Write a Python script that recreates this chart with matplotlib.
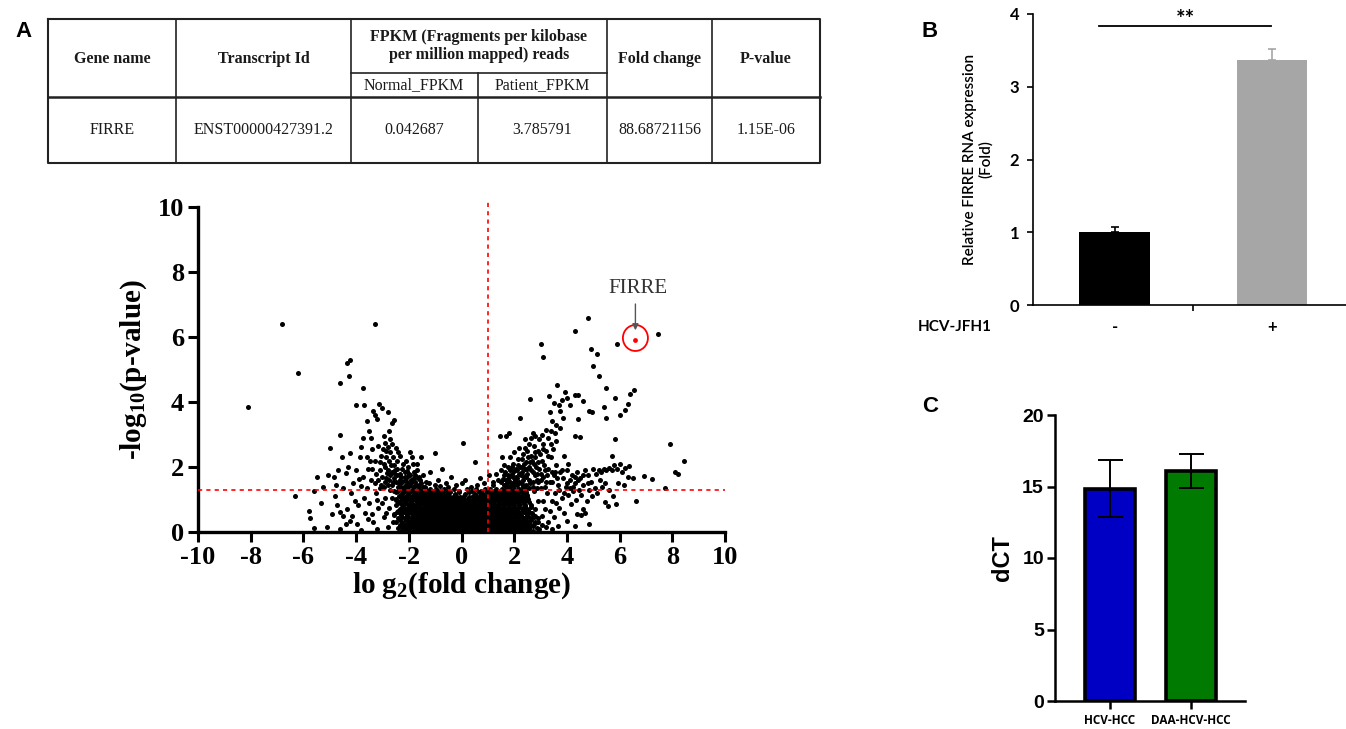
import matplotlib
matplotlib.use("Agg")
import numpy as np
import matplotlib.pyplot as plt
from matplotlib.patches import Ellipse

W, H = 1346, 729
plt.rcParams["axes.unicode_minus"] = False

# ---------------- data ----------------
table_header = ["Gene name", "Transcript Id", "FPKM (Fragments per kilobase\nper million mapped) reads",
                "Fold change", "P-value"]
table_sub = ["Normal_FPKM", "Patient_FPKM"]
table_row = ["FIRRE", "ENST00000427391.2", "0.042687", "3.785791", "88.68721156", "1.15E-06"]

# volcano: sparse points on the left side
left_pts = [(-8.1,3.85),(-6.8,6.4),(-6.2,4.9),(-3.3,6.4),(-6.3,1.12),(-5.8,0.65),(-5.75,0.42),(-5.6,0.12),
    (-5.35,0.88),(-5.1,0.15),(-5.0,2.6),(-5.25,1.4),(-5.05,1.75),(-4.85,1.7),(-4.75,1.45),(-4.62,3.0),
    (-4.52,2.3),(-4.4,1.82),(-4.35,5.2),(-4.22,5.3),(-4.28,4.8),(-4.62,4.6),(-4.0,3.92),(-3.72,4.42),
    (-4.22,2.42),(-4.72,0.82),(-4.62,0.62),(-4.5,0.48),(-4.35,0.72),(-4.25,0.35),(-4.05,0.95),(-3.92,0.82),
    (-4.02,1.9),(-3.9,1.62),(-3.82,1.42),(-3.72,2.9),(-3.82,2.62),(-3.6,3.42),(-3.5,3.12),(-3.35,3.72),
    (-3.28,3.6),(-3.2,3.48),(-3.12,3.95),(-3.02,3.82),(-2.8,3.7),(-2.55,3.45),(-2.65,3.35),(-3.7,3.9),
    (-3.6,2.3),(-3.45,2.9),(-3.4,2.55),(-3.55,1.95),(-3.3,2.2),(-3.25,1.8),(-3.15,2.65),(-3.05,2.35),
    (-2.95,2.95),(-2.9,2.75),(-2.85,2.5),(-2.75,3.1),(-2.7,2.85),(-2.6,2.3),(-2.55,2.05),(-2.75,2.2),
    (-2.95,2.1),(-3.1,1.9),(-3.45,1.6),(-3.6,1.35),(-3.75,1.7),(-4.1,1.5),(-4.2,1.2),(-4.5,1.35),
    (-4.8,1.1),(-5.5,1.7),(-5.6,1.25),(-4.9,0.55),(-4.15,0.5),(-3.95,0.25),(-3.65,0.6),(-3.7,1.05),
    (-3.5,0.9),(-3.4,0.55),(-3.35,0.3),(-3.25,1.2),(-3.15,0.75),(-3.05,1.45),(-2.95,0.45),(-2.9,1.05),
    (-2.85,1.65),(-2.75,0.75),(-2.7,1.3),(-2.65,1.85),(-2.6,0.3),(-2.6,1.55),(-2.5,1.0),(-2.5,2.6),
    (-2.45,1.75),(-2.4,0.65),(-2.4,1.4),(-2.35,2.35),(-2.3,1.15),(-2.25,1.95),(-2.2,0.85),(-2.15,1.6),
    (-2.1,2.2),(-2.05,1.35),(-2.0,1.8),(-1.95,2.45),(-1.9,1.5),(-1.85,2.1),(-1.8,1.65),(-1.7,1.9),
    (-1.6,1.45),(-1.55,2.3),(-1.45,1.75),(-1.35,1.55),(-1.2,1.85),(-1.0,2.42),(-0.9,1.6),(-0.75,1.95),
    (-0.6,1.5),(-0.4,1.7),(-0.2,1.45),(-3.85,2.3),(-4.3,2.0),(-4.7,1.9),(-3.2,0.1),(-2.8,0.15),
    (-4.6,0.1),(-3.8,0.05),(-3.0,1.7),(-2.9,2.0),(-2.8,1.45),(-2.7,2.45),(-2.55,1.25),(-2.45,2.2),
    (-2.35,1.6),(-2.25,1.35),(-2.15,1.85),(-2.05,1.55),(-1.95,1.75),(-1.85,1.4),(-1.75,1.55),(-3.3,1.5),
    (-3.2,1.0),(-3.0,0.9),(-2.85,0.6),(-2.65,1.05),(-2.55,0.55),(-3.55,0.4),(-4.4,0.25),
    (-2.98,2.55),(-2.88,2.3),(-2.78,2.62),(-2.68,2.05),(-2.62,2.7),(-2.52,1.9),(-2.42,2.45),(-2.32,1.8),
    (-2.22,2.1),(-2.12,1.45),(-2.02,2.0),(-1.92,1.6),(-1.82,1.85),(-1.72,1.45),(-1.62,1.7),(-1.52,1.5),
    (-3.08,2.15),(-3.18,1.6),(-3.38,1.95),(-3.48,2.2),(-2.78,1.9),(-2.58,1.65),(-2.38,1.5),(-2.18,1.4),
    (-2.9,1.55),(-3.1,1.35),(-2.72,1.75),(-2.48,1.55),(-2.28,1.7),(-2.08,1.7),(-1.88,2.3),(-1.68,2.1),
    (-2.84,1.82),(-2.64,1.45),(-2.44,1.95),(-2.34,1.42),(-2.14,1.7),(-1.98,1.42),(-1.78,1.75),(-1.58,1.6),
    (-2.96,1.4),(-2.76,1.6),(-2.56,1.82),(-2.26,1.55),(-2.06,1.88),(-1.86,1.58),(-1.66,1.42),(-1.46,1.4)]

# volcano: points around the centre, above the dense core
mid_pts = [(0.05,2.75),(0.15,1.6),(0.35,1.4),(0.5,2.15),(0.7,1.65),(0.85,1.5),(1.05,1.75),(-1.0,1.45),
    (-0.5,1.4),(0.0,1.5),(0.6,1.45),(-1.4,1.4),(-1.65,1.65),(-1.25,1.5),(-0.8,1.42),(1.2,1.45)]

# volcano: right side
right_pts = [(4.8,6.6),(4.3,6.2),(3.0,5.8),(3.1,5.4),(4.9,5.62),(5.15,5.48),(5.0,5.12),(5.22,4.8),
    (5.9,5.78),(7.45,6.1),(5.5,4.42),(5.82,4.12),(6.38,4.25),(6.55,4.38),(6.3,3.95),(6.0,3.6),(6.22,3.75),
    (5.5,3.5),(5.42,3.85),(4.82,3.72),(4.95,3.7),(4.62,4.02),(4.42,4.22),(4.32,4.22),(4.12,3.92),
    (4.02,4.12),(3.92,4.3),(3.62,4.52),(2.6,4.1),(3.32,4.18),(3.5,3.98),(3.35,3.7),(3.45,3.42),(3.72,3.72),
    (2.22,3.52),(4.42,3.48),(4.3,2.95),(4.5,2.92),(5.82,2.85),(5.72,2.35),(7.92,2.7),(8.45,2.18),
    (8.1,1.85),(8.22,1.78),(7.72,1.35),(7.22,1.62),(6.92,1.72),(6.62,0.95),(6.5,1.65),(5.55,0.8),
    (5.45,0.92),(4.62,0.7),(4.52,0.52),(4.82,0.25),(4.4,0.55),(4.7,0.6),(4.3,0.2),(3.8,4.05),(3.7,3.9),
    (3.85,3.5),(3.75,3.2),(3.6,3.3),(3.55,3.05),(3.4,3.1),(3.3,2.9),(3.2,3.15),(3.1,2.7),(3.05,3.0),
    (2.95,2.85),(2.9,2.5),(2.8,2.95),(2.75,2.65),(2.7,3.05),(2.65,2.35),(2.55,2.7),(2.5,2.5),(2.45,2.15),
    (2.4,2.85),(2.35,2.4),(2.3,2.0),(2.2,2.6),(2.15,2.25),(2.1,1.9),(2.0,2.45),(1.95,2.1),(1.9,1.8),
    (1.85,2.3),(1.75,2.0),(1.7,2.95),(1.6,1.75),(1.55,2.3),(1.5,1.9),(1.45,2.95),(1.8,3.05),(1.4,1.6),
    (1.3,1.8),(1.2,1.55),(3.9,2.35),(4.05,2.1),(4.0,1.9),(4.1,1.6),(4.2,1.75),(4.3,1.5),(4.4,1.85),
    (4.5,1.65),(4.6,1.45),(4.7,1.9),(4.8,1.75),(4.9,1.55),(5.0,1.95),(5.1,1.8),(5.2,1.9),(5.3,1.85),
    (5.4,1.95),(5.5,1.9),(5.6,1.98),(5.7,1.92),(5.8,2.05),(5.9,1.95),(6.0,2.1),(6.1,1.85),(6.2,1.98),
    (6.35,2.02),(5.25,1.6),(5.35,1.4),(5.15,1.2),(5.05,1.35),(5.45,1.5),(5.6,1.3),(5.75,1.1),(5.85,0.85),
    (5.95,1.5),(6.15,1.45),(6.3,1.7),(4.95,1.1),(4.85,1.3),(4.75,0.95),(4.55,1.15),(4.45,1.3),(4.35,1.0),
    (4.25,1.25),(4.15,0.85),(4.05,1.15),(3.95,1.4),(3.85,1.65),(3.8,1.05),(3.75,1.85),(3.7,0.75),
    (3.65,1.45),(3.6,2.05),(3.55,1.2),(3.5,1.75),(3.45,0.95),(3.4,2.3),(3.35,1.55),(3.3,1.95),(3.25,1.2),
    (3.2,2.5),(3.15,0.7),(3.1,1.7),(3.05,2.2),(3.0,1.35),(2.95,1.95),(2.9,0.95),(2.85,1.6),(2.8,2.3),
    (2.75,1.25),(2.7,1.85),(2.65,0.6),(2.6,1.5),(2.55,2.0),(2.5,1.15),(2.45,1.7),(2.4,0.8),(2.35,1.4),
    (2.3,1.85),(2.25,1.05),(2.2,1.55),(2.15,1.3),(2.1,1.65),(2.05,1.1),(2.0,1.45),(1.95,1.7),(1.9,1.25),
    (1.85,1.55),(1.8,1.05),(1.75,1.4),(1.7,1.6),(1.65,1.2),(1.6,1.45),(1.55,1.3),(1.5,1.55),(3.3,0.3),
    (3.5,0.45),(3.9,0.6),(4.0,0.35),(3.2,0.15),(3.45,0.1),(2.9,0.3),(3.65,0.2),(3.05,0.5),(3.35,0.65),
    (3.6,0.9),(3.1,0.95),(2.8,0.5),(2.95,0.1),(2.3,2.25),(2.4,1.95),(2.5,1.8),(2.6,2.15),(2.7,1.55),
    (2.8,1.75),(2.9,2.15),(3.0,1.6),(2.05,1.95),(2.15,2.05),(2.25,1.75),(2.35,1.6),(2.45,1.45),(2.55,1.35),
    (2.65,1.9),(2.75,2.1),(2.85,1.35),(1.65,1.85),(1.75,1.75),(1.85,1.9),(1.95,1.5),(2.05,1.7),(3.15,1.4),
    (3.25,1.75),(3.45,1.55),(3.55,1.85),(3.7,1.3),(3.9,1.2),(4.1,1.35),(4.3,1.7),(4.6,1.75),(4.8,1.5),
    (1.58,1.62),(1.68,1.38),(1.78,1.62),(1.88,1.42),(1.98,1.88),(2.08,1.52),(2.18,1.8),(2.28,1.48),
    (2.38,2.1),(2.48,1.95),(2.58,1.6),(2.68,2.2),(2.78,2.45),(2.88,1.8),(2.98,2.4),(3.08,2.55),(3.18,1.9),
    (3.28,2.35),(3.38,2.7),(3.48,2.55),(3.58,2.8),(2.62,2.9),(2.52,2.3),(2.42,2.6),(2.32,1.72),(2.22,2.0),
    (2.12,1.45),(2.02,1.6),(1.92,2.0),(1.82,1.7),(1.72,1.5),(1.62,2.05),(2.72,1.4),(2.82,2.0),(2.92,1.55),
    (3.02,1.8),(3.12,2.05),(3.22,1.55),(3.42,1.85),(3.62,1.65),(3.82,1.9),(4.02,1.5),(4.22,1.4),(4.42,1.6)]

# volcano: dense core below the threshold, one row of x values per y level
core_rows = [
    (0.03, [-2.3,-2.05,-1.85,-1.62,-1.44,-1.25,-1.08,-0.9,-0.73,-0.55,-0.38,-0.2,-0.04,0.13,0.3,0.47,0.64,0.82,0.99,1.16,1.33,1.5,1.68,1.85,2.03,2.22,2.45,2.7]),
    (0.08, [-2.18,-1.98,-1.72,-1.52,-1.34,-1.16,-0.98,-0.8,-0.63,-0.46,-0.28,-0.11,0.06,0.22,0.39,0.56,0.73,0.9,1.08,1.25,1.42,1.59,1.77,1.95,2.13,2.33,2.56]),
    (0.12, [-2.42,-2.2,-1.95,-1.76,-1.55,-1.36,-1.18,-1.0,-0.82,-0.64,-0.47,-0.3,-0.12,0.05,0.22,0.39,0.56,0.73,0.9,1.07,1.24,1.42,1.6,1.77,1.95,2.13,2.34,2.58,2.85]),
    (0.17, [-2.28,-2.06,-1.84,-1.65,-1.46,-1.27,-1.09,-0.91,-0.73,-0.56,-0.38,-0.21,-0.03,0.14,0.31,0.48,0.65,0.82,0.99,1.16,1.33,1.51,1.69,1.86,2.04,2.24,2.46,2.72]),
    (0.22, [-2.35,-2.1,-1.9,-1.7,-1.5,-1.3,-1.12,-0.95,-0.77,-0.6,-0.42,-0.25,-0.08,0.09,0.26,0.43,0.6,0.78,0.95,1.12,1.29,1.46,1.64,1.82,2.0,2.18,2.4,2.65,3.05]),
    (0.27, [-2.22,-2.0,-1.8,-1.6,-1.4,-1.21,-1.03,-0.86,-0.68,-0.51,-0.33,-0.16,0.0,0.18,0.35,0.52,0.69,0.86,1.03,1.2,1.38,1.55,1.73,1.91,2.09,2.29,2.52,2.8]),
    (0.32, [-2.5,-2.25,-2.0,-1.8,-1.6,-1.41,-1.22,-1.04,-0.86,-0.69,-0.51,-0.34,-0.16,0.0,0.17,0.35,0.52,0.69,0.86,1.03,1.21,1.38,1.55,1.73,1.91,2.09,2.28,2.52,2.78]),
    (0.37, [-2.32,-2.1,-1.88,-1.69,-1.5,-1.31,-1.13,-0.95,-0.77,-0.6,-0.42,-0.25,-0.07,0.09,0.26,0.43,0.6,0.77,0.95,1.12,1.3,1.47,1.64,1.82,2.0,2.19,2.4,2.64]),
    (0.42, [-2.4,-2.15,-1.93,-1.72,-1.52,-1.33,-1.15,-0.97,-0.79,-0.62,-0.44,-0.27,-0.1,0.07,0.24,0.41,0.58,0.75,0.92,1.09,1.26,1.44,1.62,1.8,1.98,2.17,2.38,2.6,2.9]),
    (0.47, [-2.26,-2.04,-1.82,-1.62,-1.42,-1.24,-1.06,-0.88,-0.71,-0.53,-0.36,-0.18,-0.01,0.16,0.33,0.5,0.67,0.84,1.01,1.18,1.35,1.53,1.71,1.89,2.08,2.28,2.5,2.76]),
    (0.52, [-2.55,-2.28,-2.05,-1.84,-1.64,-1.45,-1.26,-1.08,-0.9,-0.72,-0.55,-0.37,-0.2,-0.03,0.14,0.31,0.48,0.66,0.83,1.0,1.17,1.35,1.53,1.7,1.88,2.06,2.26,2.48,2.7]),
    (0.57, [-2.34,-2.12,-1.9,-1.7,-1.5,-1.31,-1.13,-0.95,-0.77,-0.6,-0.42,-0.25,-0.07,0.1,0.27,0.44,0.61,0.78,0.96,1.13,1.3,1.48,1.66,1.84,2.02,2.22,2.44,2.66]),
    (0.62, [-2.45,-2.18,-1.96,-1.75,-1.55,-1.36,-1.17,-0.99,-0.81,-0.63,-0.46,-0.29,-0.12,0.05,0.22,0.39,0.57,0.74,0.91,1.08,1.26,1.44,1.61,1.79,1.97,2.16,2.36,2.58]),
    (0.67, [-2.24,-2.02,-1.8,-1.6,-1.41,-1.22,-1.04,-0.86,-0.68,-0.51,-0.33,-0.16,0.01,0.18,0.35,0.52,0.69,0.87,1.04,1.21,1.39,1.57,1.75,1.93,2.12,2.32,2.54]),
    (0.72, [-2.35,-2.1,-1.88,-1.68,-1.48,-1.29,-1.1,-0.92,-0.74,-0.56,-0.38,-0.21,-0.04,0.13,0.3,0.48,0.65,0.82,1.0,1.17,1.35,1.53,1.71,1.89,2.08,2.28,2.5,2.8]),
    (0.77, [-2.22,-1.99,-1.78,-1.58,-1.38,-1.19,-1.01,-0.83,-0.65,-0.47,-0.3,-0.12,0.05,0.22,0.39,0.56,0.74,0.91,1.09,1.26,1.44,1.62,1.8,1.99,2.18,2.39,2.64]),
    (0.82, [-2.5,-2.22,-2.0,-1.8,-1.6,-1.4,-1.21,-1.03,-0.85,-0.67,-0.49,-0.32,-0.15,0.02,0.2,0.37,0.55,0.72,0.9,1.07,1.25,1.43,1.61,1.8,1.99,2.19,2.4,2.62]),
    (0.87, [-2.3,-2.08,-1.86,-1.66,-1.46,-1.27,-1.08,-0.9,-0.72,-0.54,-0.36,-0.19,-0.01,0.16,0.34,0.51,0.69,0.87,1.05,1.23,1.41,1.59,1.78,1.97,2.17,2.38]),
    (0.92, [-2.4,-2.13,-1.9,-1.7,-1.5,-1.31,-1.12,-0.94,-0.76,-0.58,-0.4,-0.22,-0.05,0.12,0.3,0.48,0.66,0.84,1.02,1.2,1.38,1.56,1.74,1.93,2.12,2.33,2.55]),
    (0.97, [-2.28,-2.05,-1.84,-1.63,-1.43,-1.24,-1.05,-0.86,-0.67,-0.49,-0.3,-0.12,0.12,0.38,0.62,0.86,1.06,1.25,1.44,1.63,1.82,2.02,2.22,2.44]),
    (1.02, [-2.48,-2.2,-1.97,-1.77,-1.57,-1.37,-1.18,-0.99,-0.8,-0.61,-0.42,-0.23,0.0,0.25,0.5,0.74,0.95,1.14,1.33,1.52,1.71,1.9,2.09,2.3,2.52]),
    (1.07, [-2.24,-2.0,-1.78,-1.57,-1.37,-1.17,-0.98,-0.78,-0.57,-0.34,-0.05,0.3,0.58,0.84,1.08,1.28,1.48,1.68,1.88,2.08,2.29,2.5]),
    (1.12, [-2.38,-2.1,-1.88,-1.67,-1.47,-1.27,-1.08,-0.88,-0.68,-0.47,-0.22,0.1,0.42,0.7,0.98,1.18,1.38,1.58,1.78,1.98,2.18,2.4]),
    (1.17, [-2.26,-2.02,-1.8,-1.59,-1.39,-1.19,-0.99,-0.78,-0.55,-0.25,0.15,0.5,0.82,1.05,1.26,1.47,1.68,1.89,2.1,2.32]),
    (1.22, [-2.5,-2.22,-1.98,-1.76,-1.55,-1.35,-1.15,-0.94,-0.72,-0.45,-0.1,0.3,0.65,0.95,1.15,1.36,1.57,1.78,1.99,2.2,2.45]),
    (1.27, [-2.4,-2.14,-1.9,-1.68,-1.47,-1.26,-1.04,-0.8,-0.5,-0.1,0.38,0.75,1.05,1.25,1.46,1.67,1.88,2.1,2.32]),
    (1.32, [-2.32,-2.05,-1.82,-1.6,-1.4,-1.18,-0.95,-0.65,-0.3,0.2,0.55,0.9,1.1,1.32,1.54,1.76,1.98,2.2,2.42]),
]

firre_x, firre_y = 6.6, 5.92

# panel B
b_groups = ["-", "+"]
b_values = [1.0, 3.37]
b_err = [0.07, 0.15]
b_colors = ["#000000", "#a6a6a6"]

# panel C
c_groups = ["HCV-HCC", "DAA-HCV-HCC"]
c_values = [14.85, 16.1]
c_err = [1.98, 1.17]
c_colors = ["#0000c4", "#007a00"]


def rect(l, t, r, b):
    return [l / W, 1 - b / H, (r - l) / W, (b - t) / H]


fig = plt.figure(figsize=(W / 100, H / 100), dpi=100)

# ---------------- overlay for table and panel letters ----------------
ov = fig.add_axes([0, 0, 1, 1])
ov.set_xlim(0, W)
ov.set_ylim(H, 0)
ov.axis("off")

for lab, (x, y) in zip(["A", "B", "C"], [(24, 31), (930, 31), (930, 406)]):
    ov.text(x, y, lab, fontsize=16, fontweight="bold", family="Liberation Sans", ha="center", va="center")

tl, tr, tt, tb = 48, 820, 19, 163
cols = [48, 176, 351, 607, 712, 820]
lc = "#222222"
ov.plot([tl, tr, tr, tl, tl], [tt, tt, tb, tb, tt], color=lc, lw=1.5)
for cx in cols[1:-1]:
    ov.plot([cx, cx], [tt, tb], color=lc, lw=1.2)
ov.plot([478, 478], [73, tb], color=lc, lw=1.2)
ov.plot([351, 607], [73, 73], color=lc, lw=1.2)
ov.plot([tl, tr], [97, 97], color=lc, lw=1.8)

centers = [(cols[i] + cols[i + 1]) / 2 for i in range(len(cols) - 1)]
tfont = dict(family="Liberation Serif", fontsize=11.5, ha="center", va="center", color="#1a1a1a")
for i, h in enumerate(table_header):
    yy = 46 if i == 2 else 59
    ov.text(centers[i], yy, h, fontweight="bold", linespacing=1.2, **tfont)
ov.text(414, 85, table_sub[0], **tfont)
ov.text(542, 85, table_sub[1], **tfont)
row_x = [centers[0], centers[1], 414, 542, centers[3], centers[4]]
for x, v in zip(row_x, table_row):
    ov.text(x, 130, v, **tfont)

# ---------------- volcano plot ----------------
plt.rcParams["mathtext.fontset"] = "custom"
plt.rcParams["mathtext.rm"] = "Liberation Serif:bold"
plt.rcParams["mathtext.default"] = "rm"

ax = fig.add_axes(rect(198, 207, 725, 532))
xs = [p[0] for p in left_pts + mid_pts + right_pts]
ys = [p[1] for p in left_pts + mid_pts + right_pts]
for yv, row in core_rows:
    xs += row
    ys += [yv] * len(row)
ax.scatter(xs, ys, s=13, color="black", linewidths=0, zorder=3)
ax.axvline(1, ymin=0, ymax=1.02, color="red", ls=(0, (2.5, 2.5)), lw=1.2, zorder=4, clip_on=False)
ax.axhline(1.3, color="red", ls=(0, (2.5, 2.5)), lw=1.2, zorder=4)
ax.scatter([firre_x], [firre_y], s=6, color="red", zorder=5)
ax.add_patch(Ellipse((firre_x, 5.97), 0.95, 0.8, fill=False, ec="red", lw=1.3, zorder=5))
ax.annotate("", xy=(firre_x, 6.12), xytext=(firre_x, 7.1),
            arrowprops=dict(arrowstyle="-|>", color="#555555", lw=1.0, mutation_scale=9), zorder=5)
ax.text(firre_x + 0.1, 7.5, "FIRRE", family="Liberation Serif", fontsize=15, ha="center", va="center",
        color="#333333")
ax.set_xlim(-10, 10)
ax.set_ylim(0, 10)
ax.set_xticks(range(-10, 11, 2))
ax.set_yticks(range(0, 11, 2))
for s in ["top", "right"]:
    ax.spines[s].set_visible(False)
for s in ["left", "bottom"]:
    ax.spines[s].set_linewidth(2.4)
ax.tick_params(direction="out", length=7, width=2.2, pad=3)
for lbl in ax.get_xticklabels() + ax.get_yticklabels():
    lbl.set_family("Liberation Serif")
    lbl.set_fontweight("bold")
    lbl.set_fontsize(19)
ax.set_xlabel("lo g$_2$(fold change)", family="Liberation Serif", fontweight="bold", fontsize=21, labelpad=1)
ax.set_ylabel("-log$_{10}$(p-value)", family="Liberation Serif", fontweight="bold", fontsize=21, labelpad=6)

# ---------------- panel B ----------------
bx = fig.add_axes(rect(1033, 14, 1346, 305))
bx.bar([0, 1], b_values, width=0.45, color=b_colors, zorder=2)
for i in range(2):
    bx.errorbar([i], [b_values[i]], yerr=[[0], [b_err[i]]], fmt="none", ecolor=b_colors[i],
                elinewidth=1.2, capsize=3, capthick=1.2, zorder=1)
bx.set_xlim(-0.52, 1.47)
bx.set_ylim(0, 4)
bx.set_yticks(range(0, 5))
bx.set_xticks([0.5])
bx.set_xticklabels([""])
for s in ["top", "right"]:
    bx.spines[s].set_visible(False)
bx.spines["left"].set_linewidth(1.2)
bx.spines["bottom"].set_linewidth(1.2)
bx.tick_params(axis="y", direction="out", length=4, width=1.2, labelsize=12, pad=6)
bx.tick_params(axis="x", direction="out", length=4, width=1.2)
for lbl in bx.get_yticklabels():
    lbl.set_family("Lato")
    lbl.set_fontweight("bold")
bx.set_ylabel("Relative FIRRE RNA expression\n(Fold)", family="Lato", fontweight="semibold", fontsize=11,
              labelpad=12, linespacing=1.1)
bx.plot([-0.1, 0.99], [3.83, 3.83], color="black", lw=1.3, clip_on=False)
bx.text(0.45, 3.92, "**", ha="center", va="center", fontsize=16, family="Lato", fontweight="bold")
for i, g in enumerate(b_groups):
    bx.text(i, -0.3, g, ha="center", va="center", family="Lato", fontsize=12, fontweight="bold")
bx.text(-1.02, -0.3, "HCV-JFH1", ha="center", va="center", family="Lato", fontsize=11, fontweight="bold")

# ---------------- panel C ----------------
cx_ = fig.add_axes(rect(1055, 415, 1245, 701))
cx_.bar([0, 1], c_values, width=0.62, color=c_colors, edgecolor="black", linewidth=2.6, zorder=2)
cx_.errorbar([0, 1], c_values, yerr=c_err, fmt="none", ecolor="black", elinewidth=1.4, capsize=9,
             capthick=1.4, zorder=3)
cx_.set_xlim(-0.68, 1.67)
cx_.set_ylim(0, 20)
cx_.set_yticks(range(0, 21, 5))
cx_.set_xticks([0, 1])
cx_.set_xticklabels(c_groups)
for s in ["top", "right"]:
    cx_.spines[s].set_visible(False)
cx_.spines["left"].set_linewidth(1.8)
cx_.spines["bottom"].set_linewidth(1.8)
cx_.tick_params(axis="y", direction="out", length=6, width=1.8, labelsize=14, pad=2)
cx_.tick_params(axis="x", direction="out", length=6, width=1.8, pad=3)
for lbl in cx_.get_yticklabels():
    lbl.set_family("Liberation Sans")
    lbl.set_fontweight("bold")
for lbl in cx_.get_xticklabels():
    lbl.set_family("Open Sans")
    lbl.set_fontweight("bold")
    lbl.set_fontsize(8.5)
cx_.set_ylabel("dCT", family="Liberation Sans", fontweight="bold", fontsize=17, labelpad=6)

fig.savefig("out.png", dpi=100)
